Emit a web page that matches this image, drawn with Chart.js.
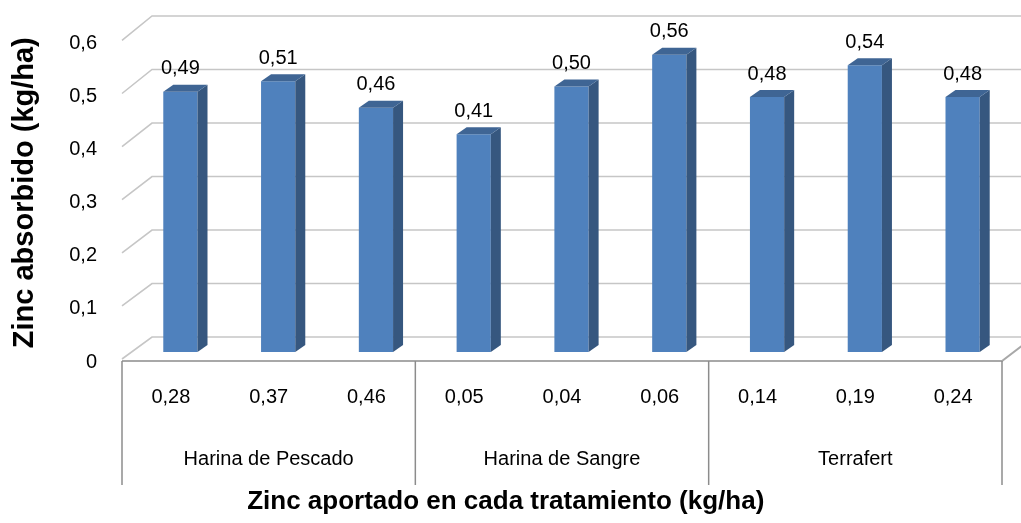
<!DOCTYPE html>
<html>
<head>
<meta charset="utf-8">
<script src="https://cdn.jsdelivr.net/npm/chart.js@4.4.1/dist/chart.umd.min.js"></script>
<style>
  html, body { margin: 0; padding: 0; background: #fff; }
</style>
</head>
<body>
<canvas id="chart" width="1021" height="523"></canvas>
<script>
const aportes = ['0,28', '0,37', '0,46', '0,05', '0,04', '0,06', '0,14', '0,19', '0,24'];
const tratamientos = ['Harina de Pescado', 'Harina de Sangre', 'Terrafert'];
const zincAbsorbido = [0.49, 0.51, 0.46, 0.41, 0.50, 0.56, 0.48, 0.54, 0.48];
const yTicks = [0, 0.1, 0.2, 0.3, 0.4, 0.5, 0.6];

const FONT = 'Arial, "Liberation Sans", sans-serif';
// offsets of the fake 3d box, relative to the plane the bars stand in
const FRONT = { dx: -9.5, dy: 7 };
const BACK = { dx: 20.5, dy: -15 };
const DEPTH = { dx: 10, dy: -7 };

const fmt = (v, d) => v === 0 ? '0' : v.toFixed(d).replace('.', ',');

const box3d = {
  id: 'box3d',
  beforeDatasetsDraw(chart) {
    const { ctx, chartArea: a, scales: { x, y } } = chart;
    ctx.save();
    // back wall + left wall grid
    ctx.strokeStyle = '#c6c6c6';
    ctx.lineWidth = 1.6;
    yTicks.forEach(v => {
      const yp = y.getPixelForValue(v);
      const fy = yp + FRONT.dy;
      const by = yp + BACK.dy - v * 4;
      ctx.beginPath();
      ctx.moveTo(a.left + FRONT.dx, fy);
      ctx.lineTo(a.left + BACK.dx, by);
      ctx.lineTo(chart.width, by);
      ctx.stroke();
    });
    // floor front edge
    const fy0 = y.getPixelForValue(0) + FRONT.dy + 2;
    const xl = x.getPixelForValue(-0.5) + FRONT.dx;
    const xr = x.getPixelForValue(aportes.length - 0.5) + FRONT.dx;
    ctx.strokeStyle = '#a8a8a8';
    ctx.lineWidth = 2;
    ctx.beginPath();
    ctx.moveTo(xl, fy0);
    ctx.lineTo(xr, fy0);
    ctx.lineTo(xr + 30, fy0 - 23);
    ctx.stroke();
    // group separators under the axis
    const per = aportes.length / tratamientos.length;
    ctx.strokeStyle = '#8c8c8c';
    ctx.lineWidth = 1.5;
    for (let g = 0; g <= tratamientos.length; g++) {
      const px = x.getPixelForValue(g * per - 0.5) + FRONT.dx;
      ctx.beginPath();
      ctx.moveTo(px, fy0);
      ctx.lineTo(px, 485);
      ctx.stroke();
    }
    ctx.restore();
  },
  afterDatasetsDraw(chart) {
    const { ctx } = chart;
    const bars = chart.getDatasetMeta(0).data;
    ctx.save();
    bars.forEach((bar, i) => {
      const l = bar.x - bar.width / 2, r = bar.x + bar.width / 2;
      // side
      ctx.fillStyle = '#36577f';
      ctx.beginPath();
      ctx.moveTo(r, bar.y);
      ctx.lineTo(r + DEPTH.dx, bar.y + DEPTH.dy);
      ctx.lineTo(r + DEPTH.dx, bar.base + DEPTH.dy);
      ctx.lineTo(r, bar.base);
      ctx.closePath();
      ctx.fill();
      // top
      ctx.fillStyle = '#3f6594';
      ctx.beginPath();
      ctx.moveTo(l, bar.y);
      ctx.lineTo(l + DEPTH.dx, bar.y + DEPTH.dy);
      ctx.lineTo(r + DEPTH.dx, bar.y + DEPTH.dy);
      ctx.lineTo(r, bar.y);
      ctx.closePath();
      ctx.fill();
      // value label
      ctx.fillStyle = '#000';
      ctx.font = '20px ' + FONT;
      ctx.textAlign = 'center';
      ctx.textBaseline = 'middle';
      ctx.fillText(fmt(zincAbsorbido[i], 2), bar.x, bar.y - 23);
    });
    ctx.restore();
  }
};

new Chart(document.getElementById('chart'), {
  type: 'bar',
  data: {
    labels: aportes,
    datasets: [{
      data: zincAbsorbido,
      backgroundColor: '#4f81bd',
      borderWidth: 0,
      barPercentage: 0.35,
      categoryPercentage: 1
    }]
  },
  options: {
    responsive: false,
    animation: false,
    devicePixelRatio: 1,
    layout: { padding: { top: 33.4, right: 9.5, left: 0, bottom: 0 } },
    plugins: {
      legend: { display: false },
      tooltip: { enabled: false },
      title: {
        display: true,
        position: 'bottom',
        text: 'Zinc aportado en cada tratamiento (kg/ha)',
        color: '#000',
        font: { family: FONT, size: 26, weight: 'bold' },
        padding: { top: 4, bottom: 6 }
      }
    },
    scales: {
      y: {
        min: 0,
        max: 0.6,
        grid: { display: false, drawTicks: false },
        border: { display: false },
        ticks: {
          stepSize: 0.1,
          padding: 34.5,
          labelOffset: 10,
          color: '#000',
          font: { family: FONT, size: 20 },
          callback: v => fmt(v, 1)
        },
        title: {
          display: true,
          text: 'Zinc absorbido (kg/ha)',
          color: '#000',
          font: { family: FONT, size: 29, weight: 'bold' },
          padding: { top: 7.5, bottom: 0 }
        },
        afterFit: s => {
          s.width = 131.5;
          s.paddingTop = 0;
          s.paddingBottom = 0;
        }
      },
      x: {
        weight: 0,
        grid: { display: false, drawTicks: false },
        border: { display: false },
        ticks: {
          autoSkip: false,
          maxRotation: 0,
          padding: 33,
          labelOffset: FRONT.dx,
          color: '#000',
          font: { family: FONT, size: 20 }
        },
        afterFit: s => { s.height = 76; }
      },
      x2: {
        type: 'category',
        position: 'bottom',
        weight: 1,
        labels: tratamientos,
        offset: true,
        grid: { display: false, drawTicks: false },
        border: { display: false },
        ticks: {
          autoSkip: false,
          maxRotation: 0,
          padding: 19,
          labelOffset: FRONT.dx,
          color: '#000',
          font: { family: FONT, size: 20 }
        },
        afterFit: s => { s.height = 53.8; }
      }
    }
  },
  plugins: [box3d]
});
</script>
</body>
</html>
